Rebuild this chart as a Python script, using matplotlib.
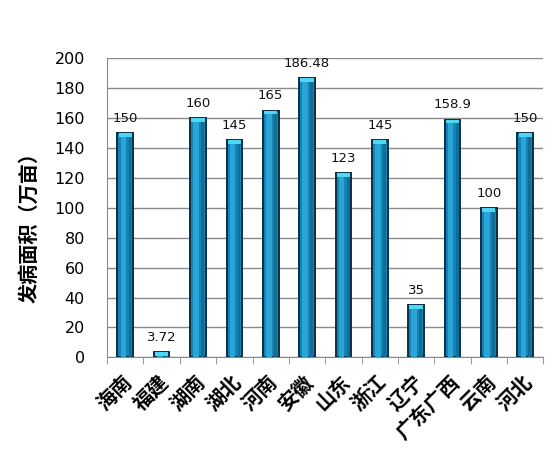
import numpy as np
import matplotlib.pyplot as plt
import matplotlib.transforms as mtransforms

plt.rcParams['font.family'] = ['DejaVu Sans', 'Noto Sans CJK SC']

# data
provinces = ['海南', '福建', '湖南', '湖北', '河南', '安徽', '山东', '浙江',
             '辽宁', '广东广西', '云南', '河北']
area = [150, 3.72, 160, 145, 165, 186.48, 123, 145, 35, 158.9, 100, 150]
labels = ['150', '3.72', '160', '145', '165', '186.48', '123', '145', '35',
          '158.9', '100', '150']

fig = plt.figure(figsize=(5.55, 4.69), dpi=100)
ax = fig.add_axes([0.193, 0.238, 0.786, 0.638])

x = np.arange(len(provinces))
w = 0.43
vals = np.array(area)

# main body
ax.bar(x, vals, width=w, color='#1584b4', edgecolor='#0b2f45', linewidth=1.4, zorder=3)
# lighter left stripe / darker right edge for the cylinder look
ax.bar(x - w*0.12, vals, width=w*0.35, color='#2aa5d8', linewidth=0, zorder=4)
ax.bar(x + w*0.3, vals, width=w*0.18, color='#0f6e98', linewidth=0, zorder=4)
# cap on top
cap = np.minimum(vals, 2.5)
ax.bar(x, cap, bottom=vals - cap, width=w*0.85, color='#4fd8f4', linewidth=0, zorder=5)

for xi, v, s in zip(x, vals, labels):
    ax.text(xi, v + 5.5, s, ha='center', va='bottom', fontsize=9.5, color='#111111', zorder=6)

ax.set_xlim(-0.5, len(provinces) - 0.5)
ax.set_ylim(0, 200)
ax.set_yticks(np.arange(0, 201, 20))
ax.tick_params(axis='y', length=0, labelsize=11.5, pad=16)
ax.yaxis.grid(True, color='#8a8a8a', linewidth=1.0, zorder=0)
ax.set_axisbelow(True)

ax.set_xticks(x)
ax.set_xticklabels(provinces, rotation=45, ha='right', va='top', rotation_mode='anchor',
                   fontsize=14.5, fontweight='heavy', family=['Noto Sans CJK SC'])
ax.tick_params(axis='x', length=0, pad=10)
shift = mtransforms.ScaledTranslation(-4/100, 0, fig.dpi_scale_trans)
for t in ax.get_xticklabels():
    t.set_transform(t.get_transform() + shift)
ax.set_xticks(np.arange(-0.5, len(provinces), 1), minor=True)
ax.tick_params(axis='x', which='minor', length=5, color='#8a8a8a')

for s in ['top', 'right']:
    ax.spines[s].set_visible(False)
ax.spines['left'].set_color('#8a8a8a')
ax.spines['bottom'].set_color('#8a8a8a')

ax.set_ylabel('发病面积（万亩）', fontsize=14.5, fontweight='heavy',
              family=['Noto Sans CJK SC'])
ax.yaxis.set_label_coords(-0.154, 0.45)

fig.savefig('out.png', dpi=100)
